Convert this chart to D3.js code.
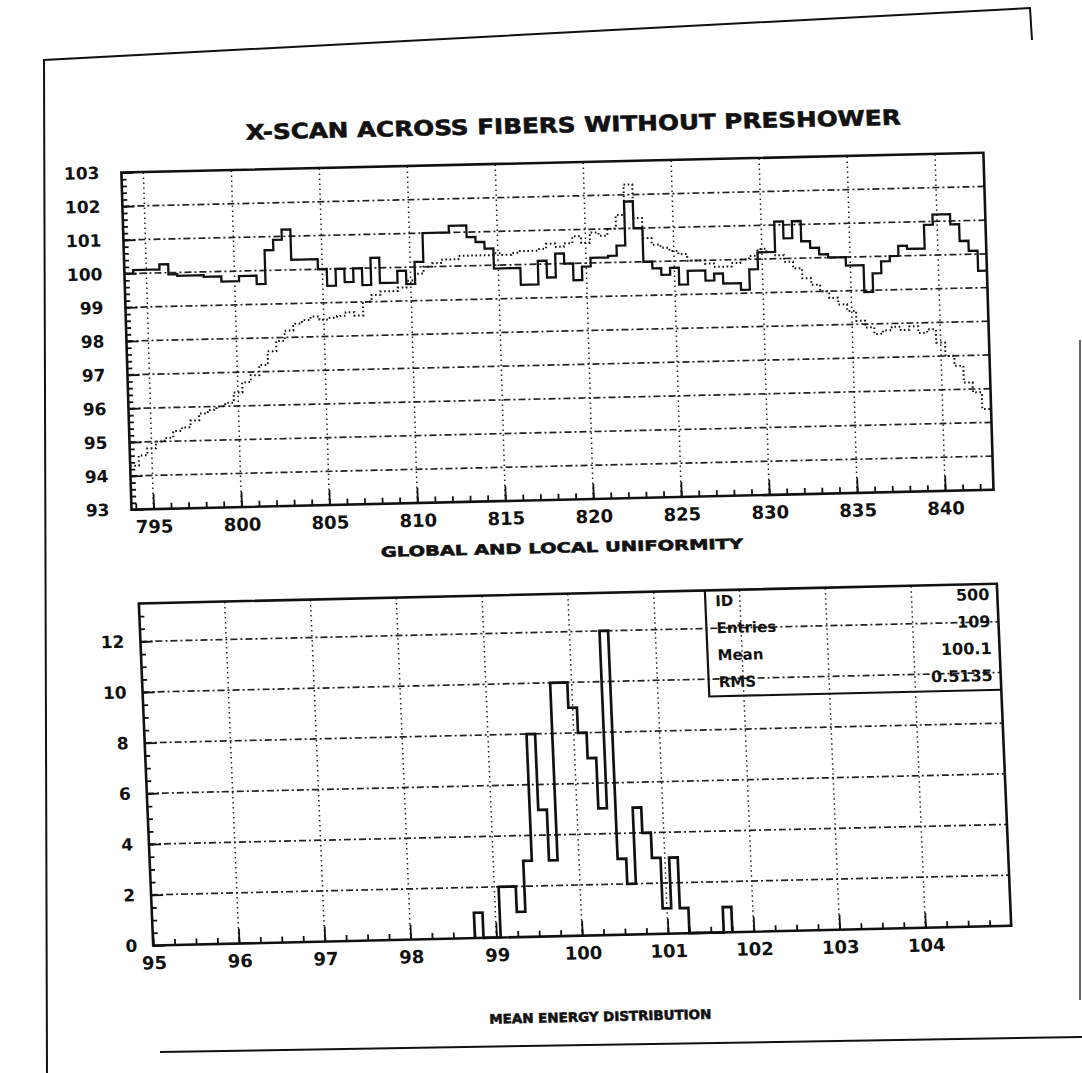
<!DOCTYPE html>
<html>
<head>
<meta charset="utf-8">
<script src="https://cdn.jsdelivr.net/npm/d3@7"></script>
<style>
  body { margin: 0; background: #fff; }
  svg { display: block; }
</style>
</head>
<body>
<svg id="chart" width="1082" height="1073"></svg>
<script>
// ---- data ----
// x-scan, bins of 0.5 starting at 793.75
var scanStart = 793.75;
var scanStep = 0.5;
var localResp = [
    100.0, 100.1, 100.1, 100.1, 100.25, 99.95, 99.9, 99.9, 99.9, 99.85,
    99.85, 99.7, 99.7, 99.85, 99.85, 99.6, 100.6, 100.9, 101.2, 100.3,
    100.3, 100.3, 100.0, 99.5, 100.0, 99.6, 100.0, 99.5, 100.3, 99.55,
    99.55, 99.9, 99.5, 100.15, 101.0, 101.0, 101.0, 101.2, 101.2, 100.85,
    100.7, 100.5, 99.9, 99.9, 99.9, 99.4, 99.4, 100.1, 99.6, 100.3,
    100.0, 99.5, 99.9, 100.15, 100.15, 100.2, 100.5, 101.8, 101.0, 100.0,
    99.8, 99.6, 99.8, 99.3, 99.7, 99.7, 99.4, 99.6, 99.3, 99.3,
    99.1, 99.7, 100.2, 100.2, 101.1, 100.6, 101.1, 100.5, 100.3, 100.1,
    100.0, 100.0, 99.75, 99.75, 98.95, 99.5, 99.85, 100.0, 100.3, 100.2,
    100.2, 100.9, 101.2, 101.2, 100.9, 100.4, 100.1, 99.5
];
var globalResp = [
    94.3, 94.6, 94.8, 95.0, 95.1, 95.3, 95.4, 95.6, 95.8, 95.9,
    96.0, 96.1, 96.4, 96.7, 96.9, 97.2, 97.6, 97.9, 98.2, 98.4,
    98.5, 98.6, 98.5, 98.55, 98.6, 98.7, 98.6, 99.0, 99.2, 99.3,
    99.3, 99.4, 99.6, 99.8, 100.0, 100.1, 100.2, 100.2, 100.3, 100.3,
    100.3, 100.3, 100.35, 100.3, 100.35, 100.4, 100.4, 100.45, 100.6, 100.5,
    100.6, 100.8, 100.6, 100.9, 100.8, 101.0, 101.4, 102.3, 101.3, 100.7,
    100.5, 100.4, 100.3, 100.2, 100.0, 100.0, 99.9, 99.8, 99.8, 99.9,
    100.0, 100.1, 100.3, 100.2, 100.1, 99.9, 99.7, 99.4, 99.2, 99.0,
    98.8, 98.6, 98.4, 98.1, 97.9, 97.7, 97.8, 97.9, 97.8, 97.9,
    97.7, 97.8, 97.4, 97.0, 96.7, 96.2, 95.9, 95.4
];
var scanTicks = [795, 800, 805, 810, 815, 820, 825, 830, 835, 840];
var respTicks = [93, 94, 95, 96, 97, 98, 99, 100, 101, 102, 103];

// mean energy histogram, bins of 0.1 starting at 98.75
var histStart = 98.75;
var histStep = 0.1;
var histCounts = [1, 0, 0, 2, 2, 1, 3, 8, 5, 3, 10, 10, 9, 8, 7, 5, 12, 3, 2, 5,
    4, 3, 1, 3, 1, 0, 0, 0, 0, 1];
var energyTicks = [95, 96, 97, 98, 99, 100, 101, 102, 103, 104];
var countTicks = [0, 2, 4, 6, 8, 10, 12];

var statsLabels = ["ID", "Entries", "Mean", "RMS"];
var statsValues = ["500", "109", "100.1", "0.5135"];

var fontFamily = "'DejaVu Sans', 'Liberation Sans', sans-serif";

var svg = d3.select("#chart");
svg.append("rect").attr("width", 1082).attr("height", 1073).attr("fill", "#fff");

// Title Sheet Border
// edge of the scanned sheet
var sheetLine = d3.line();
svg.append("path")
    .attr("d", sheetLine([[47, 1073], [44, 60], [1030, 8], [1032, 40]]))
    .attr("fill", "none").attr("stroke", "#111").attr("stroke-width", 2);
svg.append("path")
    .attr("d", sheetLine([[1080, 340], [1080, 1000]]))
    .attr("fill", "none").attr("stroke", "#333").attr("stroke-width", 1.5);
svg.append("path")
    .attr("d", sheetLine([[160, 1052], [1082, 1037]]))
    .attr("fill", "none").attr("stroke", "#111").attr("stroke-width", 2);

// the scan is sheared a little, each panel gets its own skew
function skew(c) {
    return "translate(550,550) matrix(1,-0.023," + c + ",1,0,0) translate(-550,-550)";
}
var page = svg.append("g").attr("transform", skew(0.035));

// Title Step Points
// turns binned values into the corner points of a step outline
function stepPoints(values, start, step, closeTo) {
    var pts = [];
    if (closeTo !== undefined) pts.push([start, closeTo]);
    values.forEach(function (v, i) {
        pts.push([start + i * step, v]);
        pts.push([start + (i + 1) * step, v]);
    });
    if (closeTo !== undefined) pts.push([start + values.length * step, closeTo]);
    return pts;
}

// Title Grid
function drawGrid(g, x, y, xVals, yVals) {
    g.selectAll(null).data(yVals).enter().append("line")
        .attr("x1", x.range()[0]).attr("x2", x.range()[1])
        .attr("y1", function (d) { return y(d); })
        .attr("y2", function (d) { return y(d); })
        .attr("stroke", "#222").attr("stroke-width", 1.7)
        .attr("stroke-dasharray", "7,3,2,3");
    g.selectAll(null).data(xVals).enter().append("line")
        .attr("y1", y.range()[0]).attr("y2", y.range()[1])
        .attr("x1", function (d) { return x(d); })
        .attr("x2", function (d) { return x(d); })
        .attr("stroke", "#222").attr("stroke-width", 1.5)
        .attr("stroke-dasharray", "1.5,3.5");
}

// Title Axes
// inward pointing ticks as in the HBOOK plots, labels outside
function drawAxes(g, x, y, xMajor, xMinor, yMajor, yMinor, yPad) {
    var h = y.range()[0];
    var l = x.range()[0];
    g.append("g").attr("transform", "translate(0," + h + ")")
        .call(d3.axisBottom(x).tickValues(xMinor).tickSize(-6).tickFormat(""));
    g.append("g").attr("class", "xlab").attr("transform", "translate(0," + h + ")")
        .call(d3.axisBottom(x).tickValues(xMajor).tickSize(-15).tickPadding(11)
            .tickFormat(d3.format("d")));
    g.append("g").attr("transform", "translate(" + l + ",0)")
        .call(d3.axisLeft(y).tickValues(yMinor).tickSize(-5).tickFormat(""));
    g.append("g").attr("class", "ylab").attr("transform", "translate(" + l + ",0)")
        .call(d3.axisLeft(y).tickValues(yMajor).tickSize(-12).tickPadding(yPad)
            .tickFormat(d3.format("d")));
    g.selectAll(".domain").remove();
    g.selectAll(".tick line").attr("stroke", "#111").attr("stroke-width", 1.8);
    g.selectAll(".tick text")
        .attr("font-family", fontFamily).attr("font-weight", "bold")
        .attr("fill", "#111");
    g.selectAll(".xlab .tick text").attr("font-size", 18);
    g.selectAll(".ylab .tick text").attr("font-size", 17);
}

function drawFrame(g, x, y) {
    g.append("rect")
        .attr("x", x.range()[0]).attr("y", y.range()[1])
        .attr("width", x.range()[1] - x.range()[0])
        .attr("height", y.range()[0] - y.range()[1])
        .attr("fill", "none").attr("stroke", "#111").attr("stroke-width", 2.6);
}

function addTitle(g, txt, cx, cy, size, len) {
    g.append("text")
        .attr("x", cx).attr("y", cy)
        .attr("text-anchor", "middle")
        .attr("font-family", fontFamily).attr("font-weight", "bold")
        .attr("font-size", size)
        .attr("textLength", len).attr("lengthAdjust", "spacingAndGlyphs")
        .attr("fill", "#111").attr("stroke", "#111").attr("stroke-width", 0.6)
        .text(txt);
}

// ---- upper panel: x-scan ----
var xScan = d3.scaleLinear().domain([793.75, 842.75]).range([133, 995]);
var yResp = d3.scaleLinear().domain([93, 103]).range([500, 163]);
var upper = svg.append("g").attr("transform", skew(0.03));

drawGrid(upper, xScan, yResp, scanTicks, d3.range(94, 103));

var scanLine = d3.line()
    .x(function (d) { return xScan(d[0]); })
    .y(function (d) { return yResp(d[1]); });

upper.append("path")
    .attr("d", scanLine(stepPoints(globalResp, scanStart, scanStep)))
    .attr("fill", "none").attr("stroke", "#111").attr("stroke-width", 2)
    .attr("stroke-dasharray", "1.6,2.6");

upper.append("path")
    .attr("d", scanLine(stepPoints(localResp, scanStart, scanStep)))
    .attr("fill", "none").attr("stroke", "#111").attr("stroke-width", 2.3);

drawAxes(upper, xScan, yResp, scanTicks, d3.range(794, 843, 1),
    respTicks, d3.range(93, 103.01, 0.2), 22);
drawFrame(upper, xScan, yResp);

addTitle(page, "X-SCAN ACROSS FIBERS WITHOUT PRESHOWER", 588, 133, 21, 655);
addTitle(page, "GLOBAL AND LOCAL UNIFORMITY", 562, 553, 14, 362);

// ---- lower panel: mean energy distribution ----
var xEnergy = d3.scaleLinear().domain([95, 105]).range([137, 995]);
var yCount = d3.scaleLinear().domain([0, 13.5]).range([936, 594]);
var lower = svg.append("g").attr("transform", skew(0.042));

drawGrid(lower, xEnergy, yCount, d3.range(96, 105), [2, 4, 6, 8, 10, 12]);

var histLine = d3.line()
    .x(function (d) { return xEnergy(d[0]); })
    .y(function (d) { return yCount(d[1]); });

lower.append("path")
    .attr("d", histLine(stepPoints(histCounts, histStart, histStep, 0)))
    .attr("fill", "none").attr("stroke", "#111").attr("stroke-width", 2.7);

drawAxes(lower, xEnergy, yCount, energyTicks, d3.range(95, 105, 0.25),
    countTicks, d3.range(0, 13.01, 0.5), 16);
drawFrame(lower, xEnergy, yCount);

// Title Stats Box
var box = lower.append("g");
var boxLeft = 703, boxBottom = 700;
box.append("path")
    .attr("d", d3.line()([[boxLeft, yCount.range()[1]], [boxLeft, boxBottom], [xEnergy.range()[1], boxBottom]]))
    .attr("fill", "none").attr("stroke", "#111").attr("stroke-width", 2.2);

statsLabels.forEach(function (d, i) {
    box.append("text")
        .attr("x", boxLeft + 10).attr("y", 610 + i * 27)
        .attr("font-family", fontFamily).attr("font-weight", "bold")
        .attr("font-size", 15).attr("fill", "#111")
        .text(d);
    box.append("text")
        .attr("x", xEnergy.range()[1] - 8).attr("y", 610 + i * 27)
        .attr("text-anchor", "end")
        .attr("font-family", fontFamily).attr("font-weight", "bold")
        .attr("font-size", 16).attr("fill", "#111")
        .text(statsValues[i]);
});

addTitle(page, "MEAN ENERGY DISTRIBUTION", 584, 1022, 13, 222);
</script>
</body>
</html>
